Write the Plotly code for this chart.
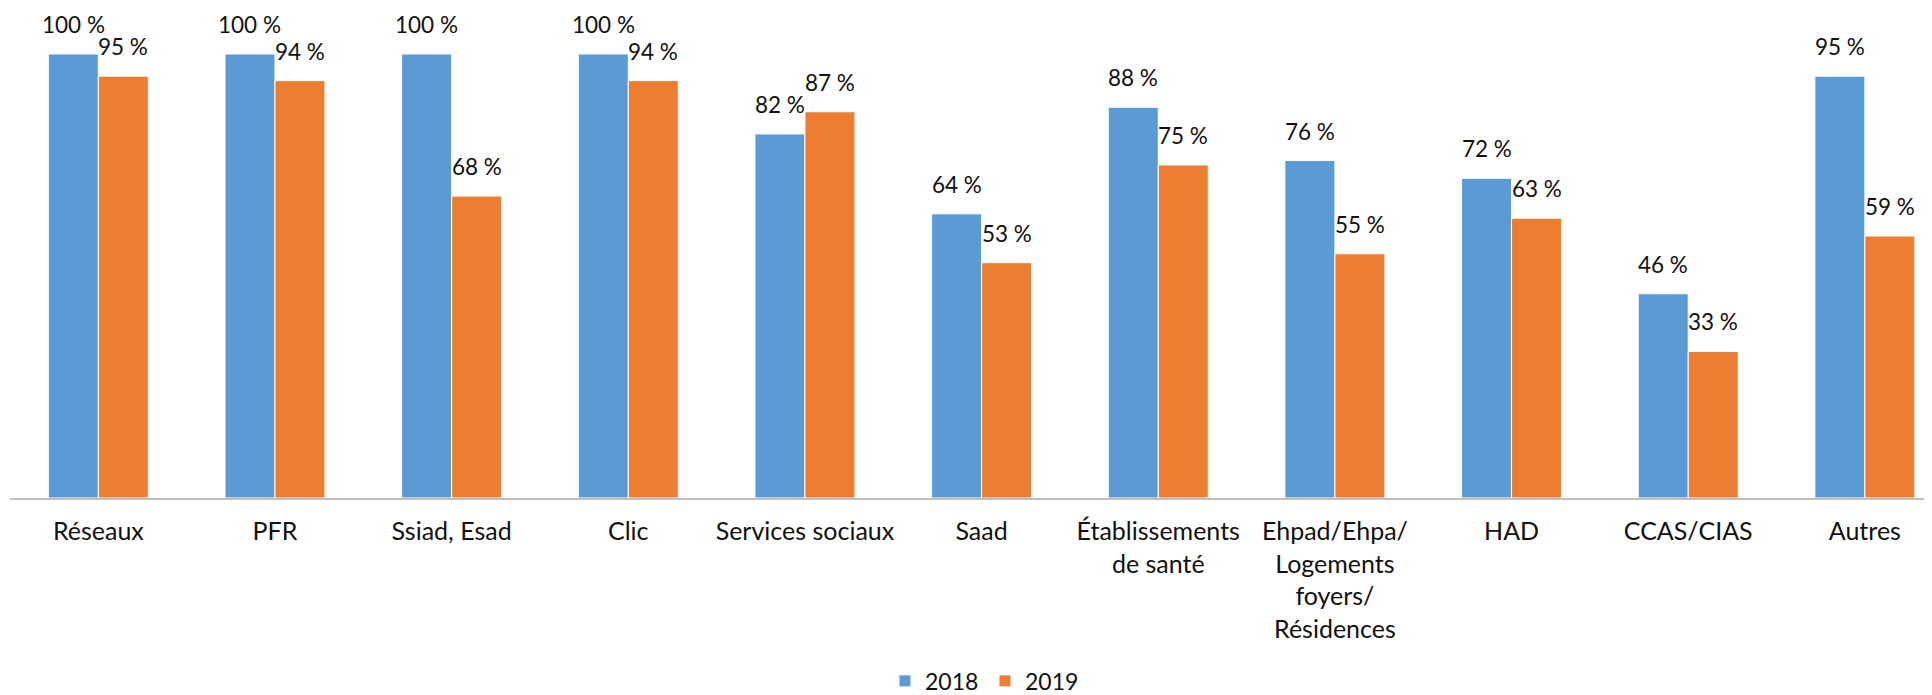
import plotly.graph_objects as go

categories = ["Réseaux", "PFR", "Ssiad, Esad", "Clic", "Services sociaux", "Saad",
              "Établissements<br>de santé", "Ehpad/Ehpa/<br>Logements<br>foyers/<br>Résidences",
              "HAD", "CCAS/CIAS", "Autres"]
values_2018 = [100, 100, 100, 100, 82, 64, 88, 76, 72, 46, 95]
values_2019 = [95, 94, 68, 94, 87, 53, 75, 55, 63, 33, 59]
series = [("2018", values_2018, "#5B9BD5"), ("2019", values_2019, "#ED7D31")]

FONT = "Lato"
TXT = "#111111"
bargap = 0.434
bw = (1 - bargap) / 2

fig = go.Figure()
for name, vals, col in series:
    fig.add_trace(go.Bar(x=list(range(len(categories))), y=vals, name=name,
                         marker=dict(color=col, line=dict(color="white", width=1))))

annotations = []
for k, (name, vals, col) in enumerate(series):
    off = (k - 0.5) * bw
    for i, v in enumerate(vals):
        annotations.append(dict(x=i + off, y=v, xref="x", yref="y", text=f"{v} %",
                                showarrow=False, yanchor="bottom", yshift=14,
                                font=dict(family=FONT, size=22.5, color=TXT)))

fig.update_layout(
    width=1924, height=687,
    margin=dict(l=2, r=0, t=46, b=197, autoexpand=False),
    paper_bgcolor="white", plot_bgcolor="white",
    barmode="group", bargap=bargap, bargroupgap=0,
    annotations=annotations,
    font=dict(family=FONT, size=22, color=TXT),
    legend=dict(orientation="h", x=0.4558, xanchor="left", y=-0.412, yanchor="middle",
                xref="container", yref="paper",
                font=dict(family=FONT, size=23, color=TXT),
                itemwidth=30, entrywidth=55, entrywidthmode="pixels"),
    xaxis=dict(tickmode="array", tickvals=list(range(len(categories))), ticktext=categories,
               range=[-0.5, 10.38], showline=True, linecolor="#BFBFBF",
               linewidth=2, ticks="", showgrid=False, zeroline=False, automargin=False,
               ticklabelstandoff=10, tickfont=dict(family=FONT, size=25, color=TXT)),
    yaxis=dict(range=[0, 100], visible=False, showgrid=False, zeroline=False, automargin=False),
)

fig.write_html("out.html")
